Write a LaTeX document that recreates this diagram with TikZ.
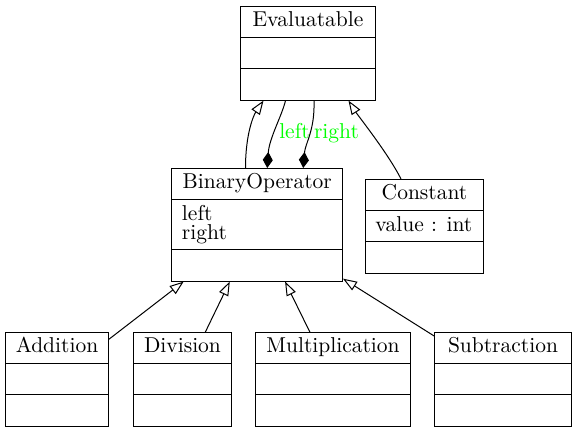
\documentclass[tikz,border=0pt]{standalone}
\usepackage{tikz}
\usetikzlibrary{shapes.multipart, arrows.meta, calc}
\definecolor{rolegreen}{RGB}{0,255,0}
\newcommand{\clsup}{\rule{0pt}{10pt}}
\newcommand{\clsdown}{\rule[-5.1pt]{0pt}{5.1pt}}
\tikzset{
  umlclass/.style={
    rectangle split, rectangle split parts=3, draw, line width=0.5pt,
    anchor=north west, inner xsep=5pt, inner ysep=0pt,
    rectangle split part align={center,left,left},
    rectangle split empty part height=10pt,
    rectangle split empty part depth=5.1pt,
    font=\fontsize{10.75}{9.5}\selectfont, align=left
  },
  inherit/.style={
    -{Triangle[open, length=7pt, width=5pt]}, line width=0.5pt
  },
  compose/.style={
    -{Diamond[length=8pt, width=5pt]}, line width=0.5pt
  },
  rolelabel/.style={
    font=\fontsize{10.75}{12}\selectfont, text=rolegreen,
    anchor=base, inner sep=0pt
  },
}
\begin{document}
\begin{tikzpicture}[x=0.5pt, y=-0.5pt]
  \useasboundingbox (0,0) rectangle (575,431);

  % Classes
  \node[umlclass, minimum width=67.5pt] (eval) at (240,6)
    {\clsup Evaluatable\clsdown \nodepart{two} \nodepart{three}};
  \node[umlclass, minimum width=85.25pt] (binop) at (171.5,168)
    {\clsup BinaryOperator\clsdown
     \nodepart{two} \clsup left\\ right\clsdown
     \nodepart{three}};
  \node[umlclass, minimum width=59pt] (const) at (365,179)
    {\clsup Constant\clsdown
     \nodepart{two} \clsup value : int\clsdown
     \nodepart{three}};

  \node[umlclass, minimum width=51.5pt] (add) at (5,332)
    {\clsup Addition\clsdown \nodepart{two} \nodepart{three}};
  \node[umlclass, minimum width=49pt] (div) at (133,332)
    {\clsup Division\clsdown \nodepart{two} \nodepart{three}};
  \node[umlclass, minimum width=77.5pt] (mult) at (255,332)
    {\clsup Multiplication\clsdown \nodepart{two} \nodepart{three}};
  \node[umlclass, minimum width=68.5pt] (sub) at (434,332)
    {\clsup Subtraction\clsdown \nodepart{two} \nodepart{three}};

  % Inheritance
  \draw[inherit] ($(binop.north)+(-11.75,0)$)
    .. controls ($(binop.north)+(-11.75,-35)$) and ($(eval.south)+(-54,14)$)
    .. ($(eval.south)+(-44.5,0)$);
  \draw[inherit] ($(const.north)+(-23.5,0)$)
    .. controls ($(const.north)+(-36,-25)$) and ($(eval.south)+(50,15)$)
    .. ($(eval.south)+(40.5,0)$);
  \draw[inherit] (add) -- (binop);
  \draw[inherit] (div) -- (binop);
  \draw[inherit] (mult) -- (binop);
  \draw[inherit] (sub) -- (binop);

  % Composition
  \draw[compose] ($(eval.south)+(-22.5,0)$)
    .. controls ($(eval.south)+(-26,15)$) and ($(binop.north)+(12,-30)$)
    .. ($(binop.north)+(10,0)$);
  \draw[compose] ($(eval.south)+(6,0)$)
    .. controls ($(eval.south)+(7,30)$) and ($(binop.north)+(48,-25)$)
    .. ($(binop.north)+(46,0)$);
  \node[rolelabel] (lblleft) at (294.5,139) {left};
  \node[rolelabel] (lblright) at (336.5,139) {right};
\end{tikzpicture}
\end{document}
